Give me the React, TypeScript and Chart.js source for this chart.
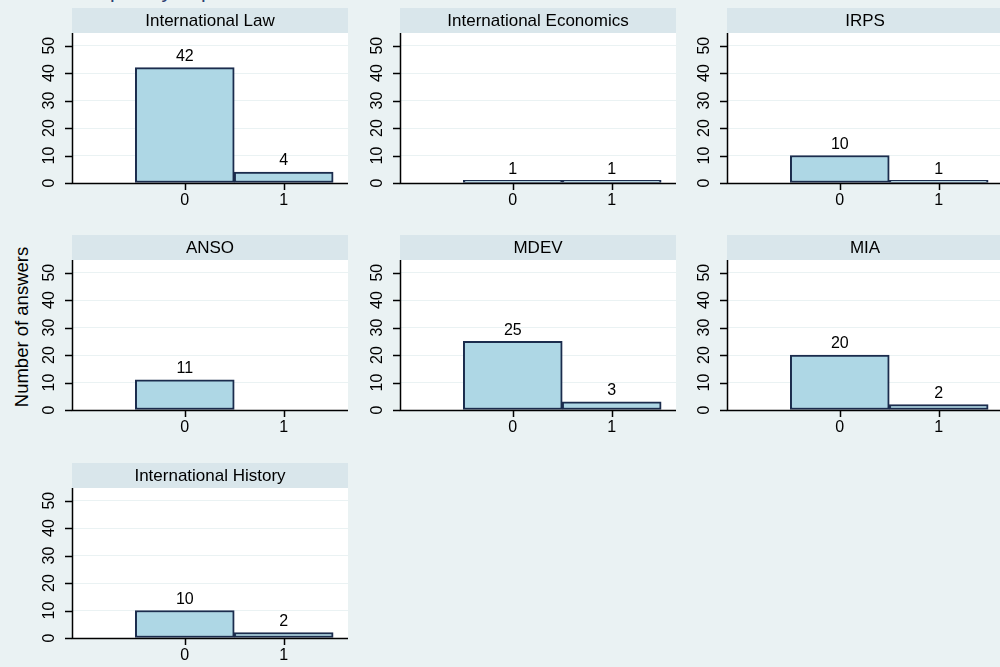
import React, { useEffect, useRef } from 'react';
import { Chart, registerables } from 'chart.js';

Chart.register(...registerables);

// ---------- data ----------
const departments = [
  'International Law',
  'International Economics',
  'IRPS',
  'ANSO',
  'MDEV',
  'MIA',
  'International History',
];
const answerValues = [0, 1];
const countsAt0: (number | null)[] = [42, 1, 10, 11, 25, 20, 10];
const countsAt1: (number | null)[] = [4, 1, 1, null, 3, 2, 2];
const yTickValues = [0, 10, 20, 30, 40, 50];
const xTickValues = [0, 1];
const yAxisTitle = 'Number of answers';
const noteText = 'Graphs by departments';

// ---------- styling / layout ----------
const FONT = '"Liberation Sans", Arial, Helvetica, sans-serif';
const BG = '#eaf2f3';
const STRIP = '#d9e6eb';
const GRID = '#eaf2f3';
const BAR_FILL = '#aed7e5';
const BAR_LINE = '#1b2c4d';
const AXIS = '#000000';

const COL_LEFT = [72, 400, 727];
const ROW_TOP = [8, 235, 463];
const PLOT_W = 276;
const PLOT_H = 150;
const STRIP_H = 25;
const Y_AXIS_W = 45;
const X_AXIS_H = 32;
const TICK_LEN = 7;
const Y_MIN = 0;
const Y_MAX = 54.6;
const X_MIN = -1.14;
const X_MAX = 1.65;

function Panel({ index }: { index: number }) {
  const ref = useRef<HTMLCanvasElement | null>(null);
  const title = departments[index];

  useEffect(() => {
    if (!ref.current) return;
    const data = answerValues.map((x, i) => ({
      x,
      y: i === 0 ? countsAt0[index] : countsAt1[index],
    }));

    const panelPlugin = {
      id: 'panelDecor',
      beforeDraw(chart: any) {
        const { ctx, chartArea } = chart;
        const { left, top, right, bottom } = chartArea;
        ctx.save();
        ctx.fillStyle = '#ffffff';
        ctx.fillRect(left, top, right - left, bottom - top);
        ctx.fillStyle = STRIP;
        ctx.fillRect(left, top - STRIP_H, right - left, STRIP_H);
        ctx.fillStyle = '#000000';
        ctx.font = `17px ${FONT}`;
        ctx.textAlign = 'center';
        ctx.textBaseline = 'middle';
        ctx.fillText(title, (left + right) / 2, top - STRIP_H / 2 + 1);
        ctx.restore();
      },
      afterDatasetsDraw(chart: any) {
        const { ctx } = chart;
        const meta = chart.getDatasetMeta(0);
        ctx.save();
        ctx.fillStyle = '#000000';
        ctx.font = `16px ${FONT}`;
        ctx.textAlign = 'center';
        ctx.textBaseline = 'bottom';
        meta.data.forEach((el: any, i: number) => {
          const v = data[i].y;
          if (v === null || v === undefined) return;
          ctx.fillText(String(v), el.x, el.y - 3);
        });
        ctx.restore();
      },
      afterDraw(chart: any) {
        const { ctx, chartArea } = chart;
        const ys = chart.scales.y;
        const xs = chart.scales.x;
        ctx.save();
        ctx.strokeStyle = AXIS;
        ctx.lineWidth = 1.5;
        // axis lines
        ctx.beginPath();
        ctx.moveTo(chartArea.left + 0.5, chartArea.top);
        ctx.lineTo(chartArea.left + 0.5, chartArea.bottom + 0.5);
        ctx.lineTo(chartArea.right, chartArea.bottom + 0.5);
        ctx.stroke();
        // tick marks
        ctx.beginPath();
        ys.ticks.forEach((t: any) => {
          const py = Math.round(ys.getPixelForValue(t.value)) + 0.5;
          ctx.moveTo(chartArea.left - TICK_LEN, py);
          ctx.lineTo(chartArea.left, py);
        });
        xs.ticks.forEach((t: any) => {
          const px = Math.round(xs.getPixelForValue(t.value)) + 0.5;
          ctx.moveTo(px, chartArea.bottom);
          ctx.lineTo(px, chartArea.bottom + TICK_LEN);
        });
        ctx.stroke();
        // rotated y tick labels
        ctx.fillStyle = '#000000';
        ctx.font = `16px ${FONT}`;
        ctx.textAlign = 'center';
        ctx.textBaseline = 'middle';
        ys.ticks.forEach((t: any) => {
          const py = ys.getPixelForValue(t.value);
          ctx.save();
          ctx.translate(chartArea.left - 22, py);
          ctx.rotate(-Math.PI / 2);
          ctx.fillText(String(t.value), 0, 0);
          ctx.restore();
        });
        ctx.restore();
      },
    };

    const chart = new Chart(ref.current, {
      type: 'bar',
      data: {
        datasets: [
          {
            data: data as any,
            backgroundColor: BAR_FILL,
            borderColor: BAR_LINE,
            borderWidth: 2,
            borderSkipped: false,
            barPercentage: 1,
            categoryPercentage: 1,
          },
        ],
      },
      options: {
        responsive: false,
        animation: false,
        events: [],
        layout: { padding: { top: STRIP_H, left: 0, right: 0, bottom: 0 } },
        plugins: {
          legend: { display: false },
          tooltip: { enabled: false },
          title: { display: false },
        },
        scales: {
          x: {
            type: 'linear',
            min: X_MIN,
            max: X_MAX,
            offset: false,
            afterBuildTicks: (s: any) => {
              s.ticks = xTickValues.map((v) => ({ value: v }));
            },
            afterFit: (s: any) => {
              s.height = X_AXIS_H;
            },
            grid: {
              offset: false,
              drawOnChartArea: false,
              drawTicks: false,
            },
            border: { display: false },
            ticks: {
              color: '#000000',
              font: { family: FONT, size: 16 },
              padding: TICK_LEN + 1,
              maxRotation: 0,
              minRotation: 0,
              autoSkip: false,
              callback: (v: any) => String(v),
            },
          },
          y: {
            type: 'linear',
            min: Y_MIN,
            max: Y_MAX,
            afterBuildTicks: (s: any) => {
              s.ticks = yTickValues.map((v) => ({ value: v }));
            },
            afterFit: (s: any) => {
              s.width = Y_AXIS_W;
            },
            grid: {
              offset: false,
              color: GRID,
              lineWidth: 1,
              drawTicks: false,
            },
            border: { display: false },
            ticks: { display: false },
          },
        },
      },
      plugins: [panelPlugin],
    } as any);

    return () => chart.destroy();
  }, [index]);

  const col = index % 3;
  const row = Math.floor(index / 3);
  const w = Y_AXIS_W + PLOT_W;
  const h = STRIP_H + PLOT_H + X_AXIS_H;
  return (
    <canvas
      ref={ref}
      width={w}
      height={h}
      style={{
        position: 'absolute',
        left: COL_LEFT[col] - Y_AXIS_W,
        top: ROW_TOP[row],
        width: w,
        height: h,
      }}
    />
  );
}

export default function App() {
  return (
    <div
      style={{
        position: 'fixed',
        left: 0,
        top: 0,
        width: 1000,
        height: 667,
        overflow: 'hidden',
        background: BG,
        fontFamily: FONT,
      }}
    >
      <div
        style={{
          position: 'absolute',
          left: 75,
          top: -20,
          fontSize: 21,
          lineHeight: '21px',
          color: '#2b3f72',
          whiteSpace: 'nowrap',
        }}
      >
        {noteText}
      </div>
      <div
        style={{
          position: 'absolute',
          left: 22,
          top: 327,
          transform: 'translate(-50%, -50%) rotate(-90deg)',
          fontSize: 18.5,
          lineHeight: '20px',
          color: '#000000',
          whiteSpace: 'nowrap',
        }}
      >
        {yAxisTitle}
      </div>
      {departments.map((_, i) => (
        <Panel key={i} index={i} />
      ))}
    </div>
  );
}
